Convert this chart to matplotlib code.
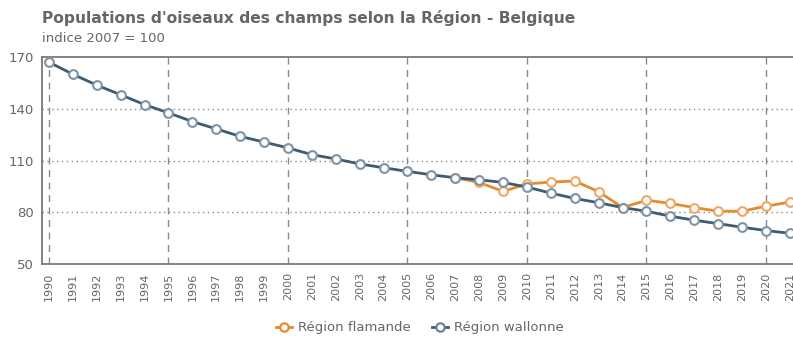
import matplotlib
matplotlib.use("Agg")
import matplotlib.pyplot as plt
from matplotlib.lines import Line2D

years = list(range(1990, 2022))
wallonne = [167.0, 160.0, 153.7, 148.1, 142.4, 137.6, 132.6, 128.3, 124.0, 120.7,
            117.3, 113.4, 110.9, 108.0, 105.8, 103.7, 101.7, 100.0, 98.8, 97.3,
            94.6, 91.1, 88.0, 85.5, 82.7, 80.6, 77.7, 75.4, 73.4, 71.3,
            69.4, 67.8]
flamande_years = list(range(2007, 2022))
flamande = [100.0, 97.3, 92.1, 96.4, 97.5, 98.1, 91.9, 82.7, 87.0, 85.1,
            82.7, 80.6, 80.6, 83.5, 85.9]
y_ticks = [50, 80, 110, 140, 170]

title = "Populations d'oiseaux des champs selon la Région - Belgique"
subtitle = "indice 2007 = 100"
orange = "#E48A2F"
blue = "#3F5B72"

W, H = 793, 338
fig = plt.figure(figsize=(W / 100, H / 100), dpi=100)
left, right, top, bottom = 42, 793, 57, 264
ax = fig.add_axes([left / W, 1 - bottom / H, (right - left) / W, (bottom - top) / H])

ax.set_xlim(1989.71, 2021.13)
ax.set_ylim(50, 170)

# grid: dashed verticals every 5 years, dotted horizontals
for yr in range(1990, 2022, 5):
    ax.axvline(yr, color="#8a8a8a", lw=1.0, ls=(0, (5, 4)), zorder=1)
for v in y_ticks[1:-1]:
    ax.axhline(v, color="#8a8a8a", lw=1.0, ls=(0, (1, 2.5)), zorder=1)

ax.plot(flamande_years, flamande, color=orange, lw=2.0, marker="o", ms=6.3,
        mfc="white", mec="#EDA866", mew=1.5, zorder=3, clip_on=False)
ax.plot(years, wallonne, color=blue, lw=2.0, marker="o", ms=6.3,
        mfc="white", mec="#7D93A6", mew=1.5, zorder=4, clip_on=False)

for s in ["left", "bottom", "top"]:
    ax.spines[s].set_color("#7a7a7a")
    ax.spines[s].set_linewidth(1.3)
ax.spines["right"].set_visible(False)

ax.set_yticks(y_ticks)
ax.set_yticklabels([str(v) for v in y_ticks], fontsize=9.5, color="#666666")
ax.set_xticks(years)
ax.set_xticklabels([str(y) for y in years], rotation=90, fontsize=8, color="#666666")
ax.tick_params(axis="both", length=0, pad=6)

fig.text(left / W, 1 - 18 / H, title, fontsize=11.2, fontweight="bold",
         color="#666666", va="center", ha="left")
fig.text(left / W, 1 - 38 / H, subtitle, fontsize=9.5, color="#666666",
         va="center", ha="left")

handles = [
    Line2D([], [], color=orange, lw=2, marker="o", ms=6, mfc="white", mec=orange, mew=1.6),
    Line2D([], [], color=blue, lw=2, marker="o", ms=6, mfc="white", mec="#6B8296", mew=1.6),
]
fig.legend(handles, ["Région flamande", "Région wallonne"], loc="center",
           bbox_to_anchor=(420 / W, 1 - 328 / H), ncol=2, frameon=False,
           fontsize=9.5, labelcolor="#666666", handlelength=1.2, columnspacing=1.6,
           handletextpad=0.5)

fig.savefig("out.png", dpi=100)
